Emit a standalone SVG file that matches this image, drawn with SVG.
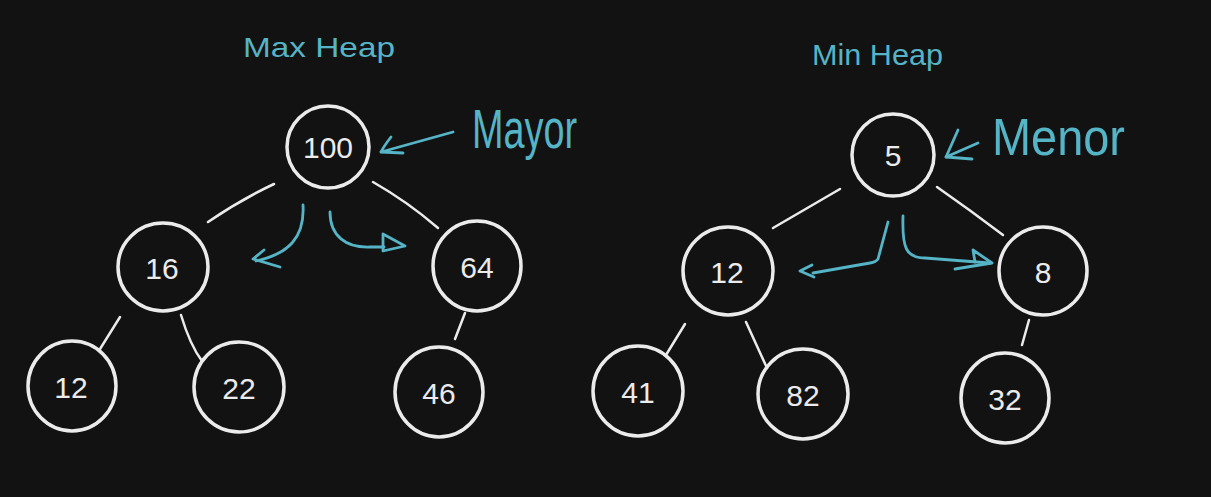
<svg xmlns="http://www.w3.org/2000/svg" width="1211" height="497" viewBox="0 0 1211 497">
<style>
.node{fill:none;stroke:#ebebeb;stroke-width:3.5}
.lbl{fill:#ebebeb;font-family:"Liberation Sans","DejaVu Sans",sans-serif;font-size:30px;text-anchor:middle}
.edge{fill:none;stroke:#ebebeb;stroke-width:2.5;stroke-linecap:round}
.ann{fill:none;stroke:#55b4c6;stroke-width:2.8;stroke-linecap:round;stroke-linejoin:round}
.anntxt{fill:#55b4c6;font-family:"Liberation Sans","DejaVu Sans",sans-serif}
</style>
<rect width="1211" height="497" fill="#121212"/>

<g id="titles">
<text class="anntxt" x="243" y="57" font-size="28" textLength="152" lengthAdjust="spacingAndGlyphs">Max Heap</text>
<text class="anntxt" x="812" y="65" font-size="29" textLength="131" lengthAdjust="spacingAndGlyphs">Min Heap</text>
<text class="anntxt" x="472" y="148" font-size="56" textLength="105" lengthAdjust="spacingAndGlyphs">Mayor</text>
<text class="anntxt" x="992" y="155" font-size="52" textLength="133" lengthAdjust="spacingAndGlyphs">Menor</text>
</g>

<g id="connectors">
<path class="edge" d="M274,184 Q240,200 208,222"/>
<path class="edge" d="M373,182 Q408,202 438,228"/>
<path class="edge" d="M120,317 L100,349"/>
<path class="edge" d="M181,315 Q190,345 202,361"/>
<path class="edge" d="M465,313 L455,339"/>
<path class="edge" d="M840,189 L773,228"/>
<path class="edge" d="M937,187 Q970,210 1003,235"/>
<path class="edge" d="M685,324 L666,355"/>
<path class="edge" d="M746,322 L767,368"/>
<path class="edge" d="M1029,320 L1022,345"/>
</g>

<g id="annotations">
<path class="ann" d="M453,132 L381,152"/>
<path class="ann" d="M391,137 Q384,146 381,152 L403,153"/>
<path class="ann" d="M303,205 C305,238 288,254 256,261"/>
<path class="ann" d="M264,250 L253,259 L280,267"/>
<path class="ann" d="M330,212 C330,236 346,248 370,247 L384,247"/>
<path class="ann" d="M383,234 L405,246 L383,251 Z"/>
<path class="ann" d="M978,143 L946,157"/>
<path class="ann" d="M958,130 L946,157 L972,159"/>
<path class="ann" d="M888,222 L878,259 Q876,262 870,263 L813,273"/>
<path class="ann" d="M812,265 L800,271 L814,277"/>
<path class="ann" d="M903,216 C902,248 906,258 925,258 L990,263"/>
<path class="ann" d="M973,250 L975,262 M973,250 L992,263 L955,269"/>
</g>

<g id="max-100"><ellipse class="node" cx="328" cy="147" rx="41" ry="41"/><text class="lbl" x="328" y="158">100</text></g>
<g id="max-16"><ellipse class="node" cx="163" cy="267" rx="45" ry="44"/><text class="lbl" x="162" y="279">16</text></g>
<g id="max-64"><ellipse class="node" cx="477" cy="266" rx="44" ry="45"/><text class="lbl" x="477" y="278">64</text></g>
<g id="max-12"><ellipse class="node" cx="72" cy="386" rx="44" ry="45"/><text class="lbl" x="71" y="398">12</text></g>
<g id="max-22"><ellipse class="node" cx="239" cy="387" rx="45" ry="45"/><text class="lbl" x="239" y="399">22</text></g>
<g id="max-46"><ellipse class="node" cx="439" cy="392" rx="44" ry="45"/><text class="lbl" x="439" y="404">46</text></g>

<g id="min-5"><ellipse class="node" cx="893" cy="155" rx="41" ry="41"/><text class="lbl" x="893" y="166">5</text></g>
<g id="min-12"><ellipse class="node" cx="728" cy="271" rx="45" ry="44"/><text class="lbl" x="727" y="283">12</text></g>
<g id="min-8"><ellipse class="node" cx="1043" cy="271" rx="44" ry="44"/><text class="lbl" x="1043" y="283">8</text></g>
<g id="min-41"><ellipse class="node" cx="638" cy="391" rx="45" ry="45"/><text class="lbl" x="638" y="403">41</text></g>
<g id="min-82"><ellipse class="node" cx="803" cy="394" rx="45" ry="45"/><text class="lbl" x="803" y="406">82</text></g>
<g id="min-32"><ellipse class="node" cx="1005" cy="398" rx="44" ry="45"/><text class="lbl" x="1005" y="410">32</text></g>
</svg>
